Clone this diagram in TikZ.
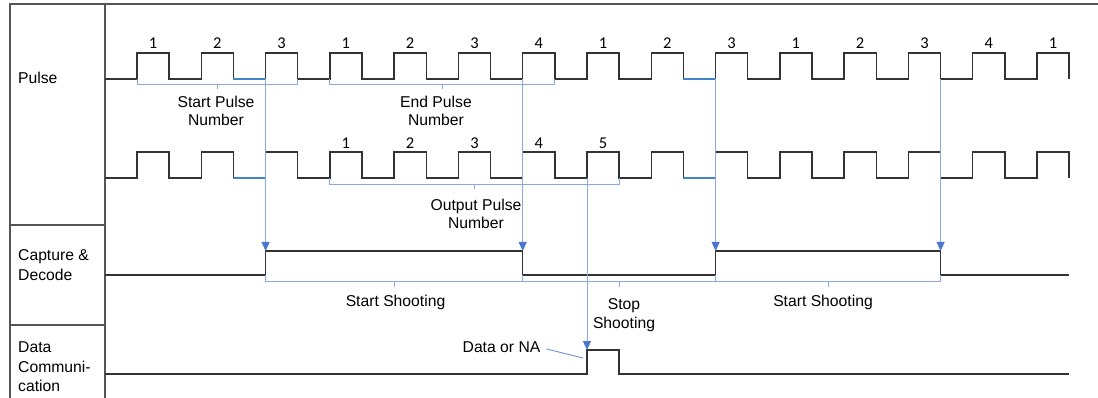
\documentclass[tikz,border=0pt]{standalone}
\usepackage{fontspec}
\setmainfont{Liberation Sans}
\newfontfamily\numfont{Carlito}
\usetikzlibrary{arrows.meta}
\definecolor{sig}{HTML}{333333}
\definecolor{framegray}{HTML}{555555}
\definecolor{guide}{HTML}{8CA8E0}
\definecolor{tipblue}{HTML}{4A76CC}
\definecolor{segblue}{HTML}{3F86C8}

\begin{document}
\begin{tikzpicture}[x=1pt,y=-1pt,
  signal/.style={draw=sig, line width=1.4pt, line join=miter},
  frameline/.style={draw=framegray, line width=1.2pt},
  guideline/.style={draw=guide, line width=0.9pt},
  marker/.style={guideline, -{Triangle[width=8pt,length=9pt,fill=tipblue,color=tipblue]}},
  bluelow/.style={draw=segblue, line width=1.4pt},
  lbl/.style={font=\fontsize{15.7}{18.5}\selectfont, align=center, inner sep=0pt},
  side/.style={font=\fontsize{15.7}{19.5}\selectfont, align=left, anchor=west, inner sep=0pt},
  num/.style={font=\numfont\fontsize{16.5}{16.5}\selectfont, inner sep=0pt},
]
\useasboundingbox (0,0) rectangle (1098,398);
\def\per{64.2857}
\def\wid{32.14}

% frame and row headers
\draw[frameline] (1098,4) -- (10,4) -- (10,398);
\draw[frameline] (105,4) -- (105,398);
\draw[frameline] (10,225) -- (105,225);
\draw[frameline] (10,325) -- (105,325);
\node[side] (hpulse) at (18,78) {Pulse};
\node[side] (hcap) at (18,265) {Capture \&\\Decode};
\node[side] (hdata) at (18,367) {Data\\Communi-\\cation};

% pulse trains
\foreach \yl in {79,178} {
  \draw[signal] (105,\yl) \foreach \k in {0,...,14} {
      -- ({137+\k*\per},\yl) -- ++(0,-26) -- ++(\wid,0) -- ++(0,26) };
  \draw[bluelow] ({137+\per+\wid},\yl) -- ({137+2*\per},\yl);
  \draw[bluelow] ({137+8*\per+\wid},\yl) -- ({137+9*\per},\yl);
}

% pulse counts
\foreach \k/\n in {0/1,1/2,2/3,3/1,4/2,5/3,6/4,7/1,8/2,9/3,10/1,11/2,12/3,13/4,14/1}
  \node[num] (ca\k) at ({137+\k*\per+16},43) {\n};
\foreach \k/\n in {3/1,4/2,5/3,6/4,7/5}
  \node[num] (cb\k) at ({137+\k*\per+16},143) {\n};

% capture & decode and data communication signals
\draw[signal] (105,275) -- (265.6,275) -- (265.6,251) -- (522.7,251) -- (522.7,275)
  -- (715.6,275) -- (715.6,251) -- (940.6,251) -- (940.6,275) -- (1069,275);
\draw[signal] (105,374) -- (587,374) -- (587,350) -- (619.1,350) -- (619.1,374) -- (1069,374);

% trigger markers
\coordinate (t1) at (265.6,79);  \coordinate (e1) at (265.6,251);
\coordinate (t2) at (522.7,79);  \coordinate (e2) at (522.7,251);
\coordinate (t3) at (587,178);   \coordinate (e3) at (587,350);
\coordinate (t4) at (715.6,79);  \coordinate (e4) at (715.6,251);
\coordinate (t5) at (940.6,79);  \coordinate (e5) at (940.6,251);
\foreach \i in {1,...,5} \draw[marker] (t\i) -- (e\i);

% braces
\draw[guideline] (137,79) |- (297.8,84) -- (297.8,79);
\draw[guideline] (217.5,84) -- (217.5,89);
\draw[guideline] (329.9,79) |- (554.9,84) -- (554.9,79);
\draw[guideline] (442.4,84) -- (442.4,89);
\draw[guideline] (329.9,178) |- (619.1,184) -- (619.1,178);
\draw[guideline] (474.5,184) -- (474.5,189);
\draw[guideline] (265.6,275) |- (940.6,281) -- (940.6,275);
\draw[guideline] (522.7,275) -- (522.7,281);
\draw[guideline] (715.6,275) -- (715.6,281);
\draw[guideline] (394.1,281) -- (394.1,287);
\draw[guideline] (619.1,281) -- (619.1,287);
\draw[guideline] (828.1,281) -- (828.1,287);

% annotations
\node[lbl] (lstart) at (216,111) {Start Pulse\\Number};
\node[lbl] (lend) at (436,111) {End Pulse\\Number};
\node[lbl] (lout) at (476,214) {Output Pulse\\Number};
\node[lbl] (lshoot1) at (395.5,302) {Start Shooting};
\node[lbl] (lstop) at (624,315) {Stop\\Shooting};
\node[lbl] (lshoot2) at (823,302) {Start Shooting};
\node[lbl] (ldata) at (501.5,347) {Data or NA};
\coordinate (dlead) at (583,358);
\draw[guideline, draw=tipblue!80] ([xshift=6pt,yshift=-2pt]ldata.east) -- (dlead);
\end{tikzpicture}
\end{document}
